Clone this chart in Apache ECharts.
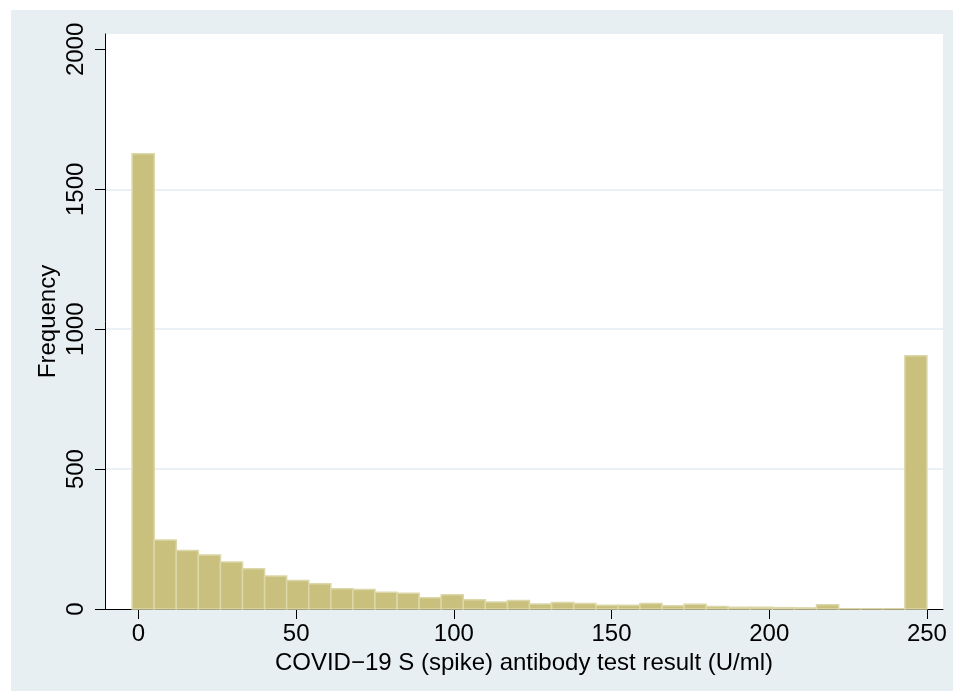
<!DOCTYPE html>
<html>
<head>
<meta charset="utf-8">
<script src="https://cdn.jsdelivr.net/npm/echarts@6/dist/echarts.min.js"></script>
<style>
html,body{margin:0;padding:0;background:#fff;}
#chart{width:953px;height:698px;}
</style>
</head>
<body>
<div id="chart"></div>
<script>
// Histogram bins: lower edge of first bin and bin width (U/ml)
var binStart = -2;
var binWidth = 7;
// Frequency per bin
var counts = [1627, 247, 209, 193, 168, 144, 118, 102, 90, 72,
              70, 60, 56, 40, 51, 33, 25, 30, 18, 23,
              20, 13, 13, 20, 12, 17, 9, 6, 6, 5,
              4, 15, 1, 1, 1, 905];
var xTicks = [0, 50, 100, 150, 200, 250];
var yTicks = [0, 500, 1000, 1500, 2000];
var xTitle = 'COVID\u221219 S (spike) antibody test result (U/ml)';
var yTitle = 'Frequency';

var data = counts.map(function (c, i) {
  var lo = binStart + binWidth * i;
  return [lo, lo + binWidth, c];
});

var FONT = '"Liberation Sans", Arial, Helvetica, sans-serif';
var plain = function (v) { return String(v); };
var chart = echarts.init(document.getElementById('chart'), null, {renderer: 'canvas'});
chart.setOption({
  backgroundColor: '#ffffff',
  animation: false,
  graphic: {
    elements: [{
      type: 'rect', z: -100, silent: true,
      shape: {x: 11, y: 10, width: 942, height: 681},
      style: {fill: '#e8eff2'}
    }]
  },
  grid: {
    left: 105, top: 34, right: 10, bottom: 89,
    show: true, backgroundColor: '#ffffff', borderWidth: 0
  },
  xAxis: {
    type: 'value', min: -10.6, max: 255.1,
    name: xTitle, nameLocation: 'middle', nameGap: 40,
    nameTextStyle: {fontFamily: FONT, fontSize: 24, color: '#000'},
    axisLine: {show: true, onZero: false, lineStyle: {color: '#000', width: 1}},
    axisTick: {show: true, length: 10, customValues: xTicks, lineStyle: {color: '#000', width: 1}},
    axisLabel: {customValues: xTicks, formatter: plain, fontFamily: FONT, fontSize: 24, color: '#000', margin: 13},
    splitLine: {show: false}
  },
  yAxis: {
    type: 'value', min: 0, max: 2055,
    name: yTitle, nameLocation: 'middle', nameRotate: 90, nameGap: 45,
    nameMoveOverlap: false,
    nameTextStyle: {fontFamily: FONT, fontSize: 24, color: '#000'},
    axisLine: {show: true, onZero: false, lineStyle: {color: '#000', width: 1}},
    axisTick: {show: true, length: 10, customValues: yTicks, lineStyle: {color: '#000', width: 1}},
    axisLabel: {customValues: yTicks, formatter: plain, rotate: 90, fontFamily: FONT, fontSize: 24, color: '#000', margin: 17},
    splitLine: {show: true, lineStyle: {color: ['rgba(0,0,0,0)', '#e3ecf0', '#e3ecf0', '#e3ecf0', 'rgba(0,0,0,0)', 'rgba(0,0,0,0)'], width: 1.5}}
  },
  series: [{
    type: 'custom',
    data: data,
    encode: {x: [0, 1], y: 2},
    renderItem: function (params, api) {
      var p0 = api.coord([api.value(0), api.value(2)]);
      var p1 = api.coord([api.value(1), 0]);
      return {
        type: 'rect',
        shape: {x: p0[0], y: p0[1], width: p1[0] - p0[0], height: p1[1] - p0[1]},
        style: {fill: '#c8c07c', stroke: '#dcd7a8', lineWidth: 1.5}
      };
    }
  }]
});
</script>
</body>
</html>
